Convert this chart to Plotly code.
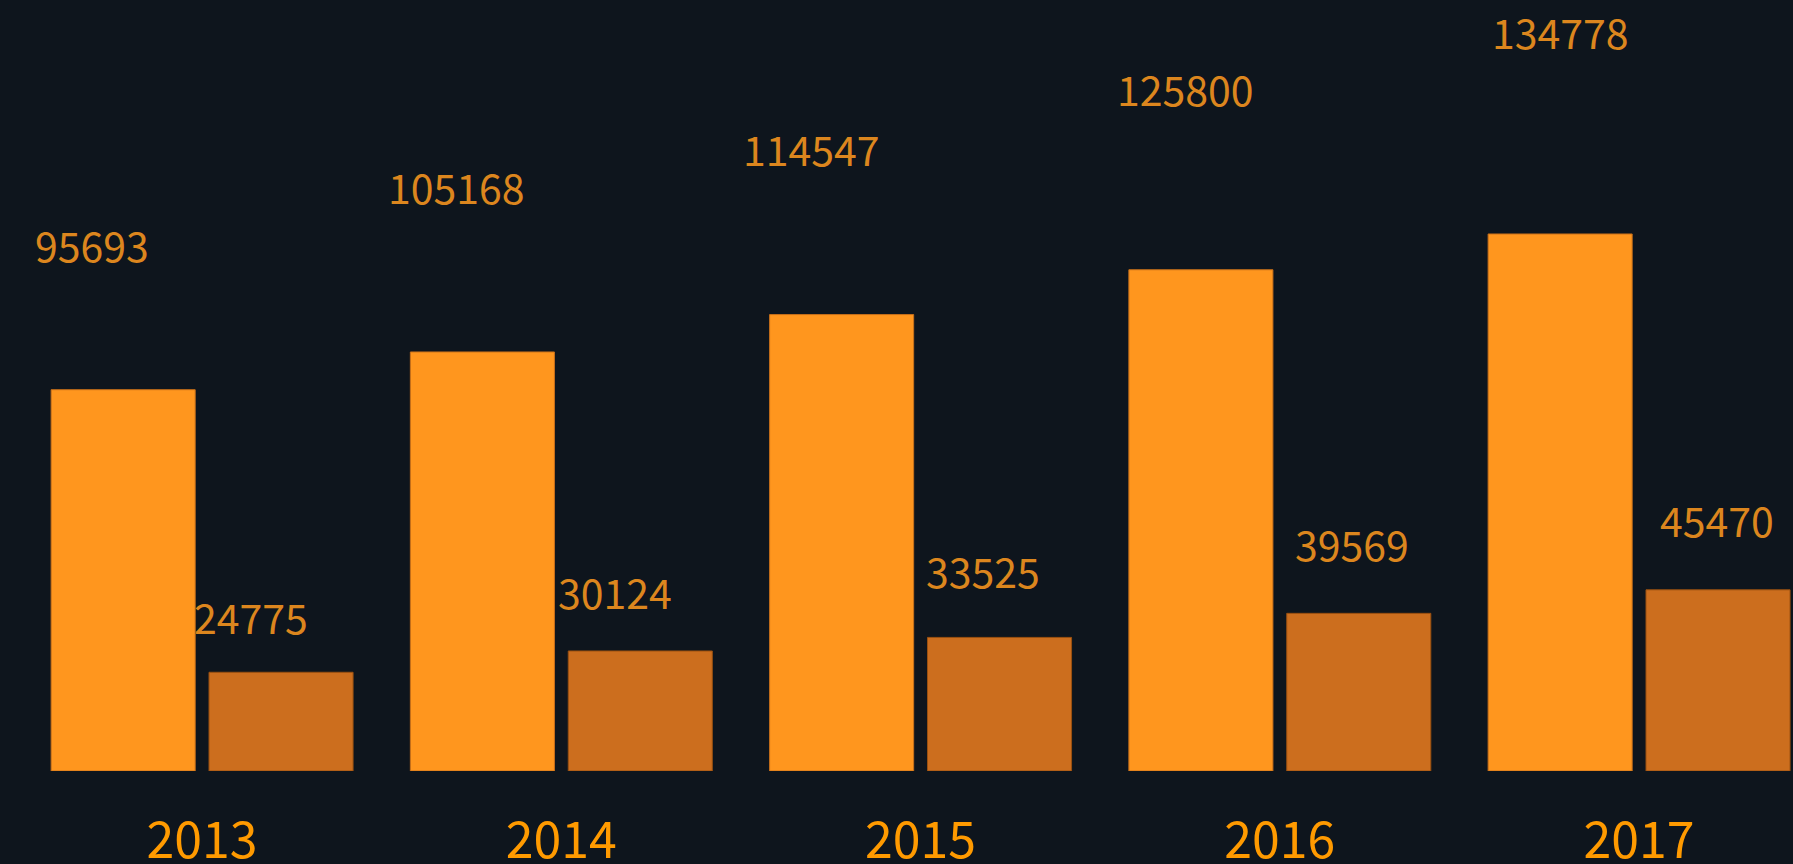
import plotly.graph_objects as go

# ---- data ----
years = ["2013", "2014", "2015", "2016", "2017"]
series_a = [95693, 105168, 114547, 125800, 134778]
series_b = [24775, 30124, 33525, 39569, 45470]

# ---- label placement (pixel nudges, as seen in the reference) ----
a_label_dx = [-31, -26, -30, -15, 0]
a_label_dy = [146, 166, 167, 182, 203]
b_label_dx = [-30, -25, -17, -7, -1]
b_label_dy = [56, 60, 67, 70, 71]

W, H = 1793, 864
BG = "#0E151D"
COL_A = "#FF961E"
COL_B = "#CC6E1E"
LABEL_COL = "#DC861E"
TICK_COL = "#FF9A00"
FONT = "Noto Sans CJK SC"

bar_w = 0.401
off_a = -0.420
off_b = 0.0195
ymax = 193500

fig = go.Figure()
fig.add_trace(go.Bar(
    x=years, y=series_a, width=bar_w, offset=off_a,
    marker=dict(color=COL_A, line=dict(color="#C8701A", width=1)),
    hoverinfo="skip", showlegend=False,
))
fig.add_trace(go.Bar(
    x=years, y=series_b, width=bar_w, offset=off_b,
    marker=dict(color=COL_B, line=dict(color="#9A5010", width=1)),
    hoverinfo="skip", showlegend=False,
))

ann = []
for i, (va, vb) in enumerate(zip(series_a, series_b)):
    ann.append(dict(x=i + off_a + bar_w / 2, y=va, xref="x", yref="y",
                    text=str(va), showarrow=False, xanchor="center", yanchor="middle",
                    xshift=a_label_dx[i], yshift=a_label_dy[i],
                    font=dict(family=FONT, size=41, color=LABEL_COL)))
    ann.append(dict(x=i + off_b + bar_w / 2, y=vb, xref="x", yref="y",
                    text=str(vb), showarrow=False, xanchor="center", yanchor="middle",
                    xshift=b_label_dx[i], yshift=b_label_dy[i],
                    font=dict(family=FONT, size=41, color=LABEL_COL)))

fig.update_layout(
    width=W, height=H,
    paper_bgcolor=BG, plot_bgcolor=BG,
    margin=dict(l=0, r=0, t=0, b=93, pad=0, autoexpand=False),
    barmode="overlay",
    annotations=ann,
    xaxis=dict(type="category", range=[-0.5623, 4.4287], showgrid=False, zeroline=False,
               showline=False, ticks="", ticklabelstandoff=36, automargin=False,
               tickfont=dict(family=FONT, size=50, color=TICK_COL), fixedrange=True),
    yaxis=dict(range=[0, ymax], visible=False, showgrid=False, zeroline=False,
               automargin=False, fixedrange=True),
)

fig.write_html(
    "out.html",
    config={"displayModeBar": False},
    post_script="document.body.style.margin='0';document.body.style.background='#0E151D';"
                "document.documentElement.style.background='#0E151D';",
)
